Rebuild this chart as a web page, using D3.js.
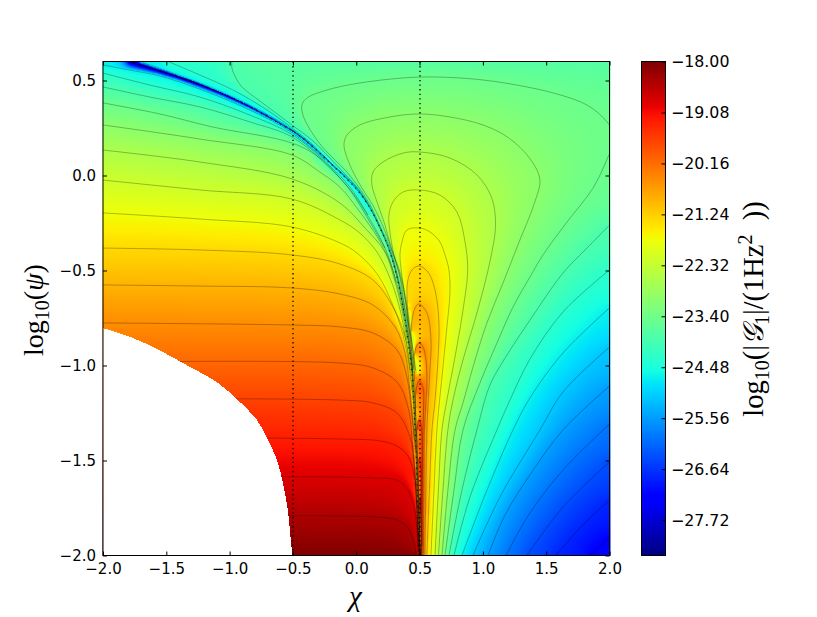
<!DOCTYPE html>
<html><head><meta charset="utf-8">
<script src="https://cdn.jsdelivr.net/npm/d3@7"></script>
<style>
html,body{margin:0;padding:0;background:#fff}
svg{display:block}
.tick text{font-family:"DejaVu Sans",sans-serif;fill:#000}
.math{font-family:"Liberation Serif",serif;fill:#000}
</style></head><body>
<div id="chart"></div>
<script>
// ---- values ----
const xTicks=[-2,-1.5,-1,-0.5,0,0.5,1,1.5,2];
const yTicks=[-2,-1.5,-1,-0.5,0,0.5];
const cbTicks=[-18,-19.08,-20.16,-21.24,-22.32,-23.40,-24.48,-25.56,-26.64,-27.72];
const chiDomain=[-2,2], psiDomain=[-2,0.6], colorDomain=[-28.47,-18];
const dottedChi=[-0.5,0.5];

// contour levels (index k = 1..22)
const levels=[null,-18.42,-18.84,-19.26,-19.68,-20.09,-20.51,-20.93,-21.35,-21.77,-22.19,-22.61,-23.03,-23.44,-23.86,-24.28,-24.70,-25.12,-25.54,-25.96,-26.38,-26.80,-27.21];

// lines left of the ridge, as [chi,psi]
const left01=[[-2,-1.792],[-.129,-1.792],[.132,-1.797],[.321,-1.813],[.408,-1.855],[.456,-1.934],[.472,-2]];
const left02=[[-2,-1.587],[-.129,-1.587],[.132,-1.592],[.321,-1.603],[.408,-1.655],[.456,-1.745],[.479,-1.866],[.483,-2]];
const left03=[[-2,-1.376],[-.129,-1.387],[.187,-1.397],[.321,-1.424],[.408,-1.476],[.456,-1.576],[.479,-1.761],[.491,-2]];
const left04=[[-2,-1.176],[-.129,-1.182],[.132,-1.197],[.321,-1.25],[.424,-1.376],[.456,-1.513],[.476,-1.708],[.491,-1.918],[.495,-2]];
const left05=[[-2,-.982],[-.129,-.987],[.132,-1.013],[.321,-1.087],[.408,-1.218],[.448,-1.445],[.472,-1.655],[.487,-1.866],[.497,-2]];
const left06=[[-2,-.776],[-.508,-.787],[-.129,-.797],[.132,-.829],[.321,-.918],[.4,-1.061],[.44,-1.271],[.468,-1.445]];
const left07=[[-2,-.576],[-1.235,-.582],[-.508,-.592],[-.129,-.624],[.132,-.682],[.306,-.797],[.385,-.934],[.424,-1.129],[.46,-1.392]];
const left08=[[-2,-.382],[-1.235,-.392],[-.508,-.418],[-.129,-.466],[.132,-.55],[.29,-.692],[.385,-.85],[.424,-.997],[.448,-1.182]];
const left09=[[-2,-.197],[-1.235,-.229],[-.508,-.271],[-.129,-.355],[.006,-.408],[.171,-.524],[.282,-.671],[.369,-.839],[.416,-.997],[.44,-1.129]];
const left10=[[-2,-.024],[-1.235,-.076],[-.508,-.124],[-.129,-.234],[.029,-.303],[.164,-.403],[.266,-.539],[.337,-.682],[.392,-.866],[.424,-1.024]];
const left11=[[-2,.134],[-1.235,.071],[-.508,-.018],[-.129,-.145],[.069,-.276],[.227,-.403],[.298,-.539],[.361,-.708],[.4,-.866]];
const left12=[[-2,.266],[-1.235,.192],[-.508,.108],[-.287,.018],[-.129,-.061],[.029,-.192],[.171,-.329],[.266,-.455],[.329,-.592],[.377,-.734]];
const left13=[[-2,.382],[-1.551,.324],[-1.132,.255],[-.508,.171],[-.287,.092],[-.129,-.013],[-.01,-.108],[.148,-.276],[.25,-.418],[.314,-.561]];
const left14=[[-2,.466],[-1.63,.413],[-1.235,.361],[-.84,.282],[-.508,.203],[-.208,.039],[-.05,-.076],[.108,-.245],[.227,-.382]];
const left15=[[-2,.539],[-1.63,.476],[-1.235,.413],[-.84,.318],[-.508,.216],[-.208,.05],[-.05,-.061],[.092,-.208]];
const left16=[[-2,.582],[-1.788,.555],[-1.551,.524],[-1.235,.455],[-.84,.345],[-.508,.226],[-.247,.082]];

// lines hugging the ridge on its upper side
const upper14=[[-.982,.6],[-.982,.566],[-.942,.503],[-.895,.461],[-.761,.392],[-.508,.266],[-.342,.182],[-.208,.092],[-.089,.008],[.013,-.068],[.1,-.155],[.179,-.266],[.257,-.382],[.321,-.524],[.369,-.682],[.412,-.866],[.444,-1.039]];
const upper15=[[-1.487,.6],[-1.235,.529],[-.974,.45],[-.705,.345],[-.508,.25],[-.342,.161],[-.208,.071],[-.089,0],[.013,-.071],[.09,-.15]];
const upper16=[[-1.708,.6],[-1.472,.545],[-1.235,.487],[-.974,.413],[-.737,.334],[-.508,.242],[-.342,.155]];

// closed-looking lobes around chi = 0.5
const lobe02=[[.503,-2],[.497,-1.866],[.497,-1.734],[.501,-1.692],[.505,-1.734],[.508,-1.866],[.508,-2]];
const lobe03=[[.503,-2],[.495,-1.813],[.487,-1.603],[.487,-1.524],[.495,-1.487],[.507,-1.524],[.511,-1.655],[.511,-2]];
const lobe04=[[.502,-2],[.487,-1.655],[.479,-1.418],[.483,-1.313],[.495,-1.287],[.511,-1.313],[.519,-1.418],[.517,-1.708],[.515,-2]];
const lobe05=[[.5,-2],[.487,-1.603],[.472,-1.376],[.464,-1.234],[.472,-1.129],[.495,-1.082],[.527,-1.118],[.531,-1.234],[.527,-1.376],[.523,-2]];
const lobe06=[[.505,-2],[.495,-1.655],[.472,-1.303],[.464,-1.129],[.456,-1.024],[.456,-.955],[.472,-.903],[.495,-.882],[.527,-.903],[.55,-.971],[.558,-1.092],[.547,-1.234],[.539,-1.339],[.535,-1.655],[.531,-2]];
const lobe07=[[.503,-2],[.487,-1.655],[.472,-1.376],[.464,-1.271],[.456,-1.129],[.44,-.955],[.432,-.829],[.44,-.761],[.464,-.697],[.495,-.676],[.558,-.724],[.59,-.866],[.582,-1.024],[.558,-1.339],[.55,-1.655],[.542,-2]];
const lobe08=[[.503,-2],[.495,-1.813],[.479,-1.603],[.464,-1.376],[.456,-1.271],[.448,-1.129],[.44,-.987],[.424,-.866],[.408,-.724],[.4,-.618],[.408,-.55],[.44,-.497],[.495,-.476],[.566,-.508],[.622,-.603],[.653,-.776],[.645,-.971],[.622,-1.182],[.598,-1.339],[.578,-1.655],[.558,-2]];
const lobe09=[[.479,-1.392],[.464,-1.182],[.44,-.997],[.412,-.829],[.397,-.692],[.369,-.566],[.353,-.482],[.345,-.418],[.361,-.35],[.4,-.287],[.495,-.276],[.582,-.297],[.661,-.35],[.701,-.418],[.732,-.497],[.74,-.618],[.716,-.797],[.685,-1.008],[.637,-1.339],[.614,-1.655],[.59,-2]];
const lobe10=[[.472,-1.039],[.436,-.866],[.383,-.692],[.345,-.534],[.298,-.418],[.266,-.297],[.258,-.208],[.29,-.139],[.369,-.087],[.495,-.076],[.661,-.103],[.795,-.192],[.859,-.35],[.88,-.5],[.843,-.708],[.78,-.955],[.716,-1.182],[.677,-1.339],[.649,-1.655],[.622,-2]];
const lobe11=[[.464,-1.024],[.432,-.839],[.392,-.655],[.345,-.508],[.282,-.392],[.227,-.261],[.164,-.139],[.124,-.05],[.132,.018],[.211,.071],[.369,.118],[.495,.124],[.74,.092],[.953,.003],[1.07,-.118],[1.1,-.26],[1.06,-.44],[.953,-.724],[.843,-.971],[.764,-1.182],[.724,-1.339],[.685,-1.655],[.649,-2]];
const lobe12=[[.456,-1.024],[.424,-.839],[.385,-.655],[.337,-.508],[.269,-.371],[.211,-.266],[.13,-.155],[.045,-.066],[-.05,.055],[-.097,.161],[-.073,.213],[.029,.266],[.266,.308],[.495,.324],[.74,.308],[1.001,.266],[1.2,.2],[1.37,.09],[1.45,-.02],[1.41,-.14],[1.28,-.36],[1.159,-.566],[1.032,-.776],[.922,-1.008],[.843,-1.197],[.78,-1.339],[.724,-1.655],[.677,-2]];
const lobe13=[[.448,-1.039],[.416,-.866],[.377,-.682],[.329,-.534],[.266,-.382],[.191,-.271],[.11,-.155],[.013,-.055],[-.089,.029],[-.231,.124],[-.31,.187],[-.413,.303],[-.429,.371],[-.389,.408],[-.231,.45],[.029,.487],[.495,.518],[.922,.508],[1.269,.476],[1.585,.429],[1.822,.371],[1.97,.29],[2.05,.2],[1.99,.1],[1.87,-.066],[1.664,-.245],[1.475,-.418],[1.372,-.534],[1.238,-.692],[1.111,-.882],[.977,-1.092],[.843,-1.339],[.772,-1.655],[.701,-2]];

// lines in the lower right
const right14=[[2,-.261],[1.807,-.392],[1.633,-.513],[1.372,-.761],[1.175,-.961],[1.056,-1.103],[.953,-1.339],[.835,-1.655],[.732,-2]];
const right15=[[2,-.497],[1.633,-.718],[1.372,-.966],[1.214,-1.182],[1.111,-1.339],[.898,-1.692],[.772,-2]];
const right16=[[2,-.697],[1.633,-.934],[1.372,-1.171],[1.238,-1.339],[1.017,-1.682],[.835,-2]];
const right17=[[2,-.903],[1.633,-1.139],[1.451,-1.339],[1.135,-1.692],[.922,-2]];
const right18=[[2,-1.108],[1.633,-1.339],[1.372,-1.576],[1.175,-1.787],[1.04,-2]];
const right19=[[2,-1.308],[1.633,-1.55],[1.372,-1.776],[1.182,-2]];
const right20=[[2,-1.508],[1.633,-1.745],[1.348,-2]];
const right21=[[2,-1.708],[1.767,-1.855],[1.577,-2]];
const right22=[[2,-1.908],[1.846,-2]];

// the narrow dip where the quantity passes through zero, and its depth
const ridge=[[-1.803,.6],[-1.551,.55],[-1.337,.503],[-1.132,.45],[-.919,.387],[-.737,.324],[-.626,.282],[-.468,.218],[-.342,.15],[-.208,.066],[-.089,-.008],[.013,-.08],[.108,-.171],[.203,-.297],[.266,-.403],[.321,-.534],[.369,-.692],[.408,-.866],[.44,-1.039],[.456,-1.218],[.472,-1.445],[.483,-1.692],[.495,-1.934],[.499,-2]];
const ridgeDepth=[-28,-28,-28,-27.5,-27,-26.5,-26.2,-25.8,-25.5,-25.2,-25,-24.7,-24.5,-24.2,-24,-23.7,-23.4,-23.1,-22.8,-22.5,-22.2,-21.8,-21.4,-21];

// values along the plot edge
const bottomEdge=[[-2,-2],[.47,-2]], bottomEdgeValue=-18;
const topEdge=[[-.85,.6],[2,.6]], topEdgeValue=-23.72;

// outline of the empty region
const emptyEdge=[[-2,-.803],[-1.764,-.855],[-1.574,-.913],[-1.369,-.987],[-1.092,-1.092],[-.934,-1.182],[-.784,-1.287],[-.705,-1.382],[-.626,-1.497],[-.579,-1.618],[-.54,-1.761],[-.524,-1.866],[-.505,-2]];

const series=[
 [1,left01],[2,left02],[3,left03],[4,left04],[5,left05],[6,left06],[7,left07],[8,left08],[9,left09],[10,left10],[11,left11],[12,left12],[13,left13],[14,left14],[15,left15],[16,left16],
 [14,upper14],[15,upper15],[16,upper16],
 [2,lobe02],[3,lobe03],[4,lobe04],[5,lobe05],[6,lobe06],[7,lobe07],[8,lobe08],[9,lobe09],[10,lobe10],[11,lobe11],[12,lobe12],[13,lobe13],
 [14,right14],[15,right15],[16,right16],[17,right17],[18,right18],[19,right19],[20,right20],[21,right21],[22,right22]];

// ---- layout ----
const W=817,H=617,L=103,R=609.5,T=61.5,B=555.5,cbL=641.5,cbR=665.5;
const x=d3.scaleLinear().domain(chiDomain).range([L,R]);
const y=d3.scaleLinear().domain(psiDomain).range([B,T]);
const cy=d3.scaleLinear().domain(colorDomain).range([B,T]);
const norm=d3.scaleLinear().domain(colorDomain).range([0,1]).clamp(true);
const jr=d3.scaleLinear().domain([0,.35,.66,.89,1]).range([0,0,1,1,.5]);
const jg=d3.scaleLinear().domain([0,.125,.375,.64,.91,1]).range([0,0,1,1,0,0]);
const jb=d3.scaleLinear().domain([0,.11,.34,.65,1]).range([.5,1,1,0,0]);
const jet=v=>{const n=norm(v);return [jr(n)*255,jg(n)*255,jb(n)*255];};

const svg=d3.select('#chart').append('svg').attr('width',W).attr('height',H).attr('viewBox',[0,0,W,H]);
svg.append('clipPath').attr('id','plot').append('rect').attr('x',L).attr('y',T).attr('width',R-L).attr('height',B-T);
const image=svg.append('image').attr('x',L-.5).attr('y',T-.5).attr('width',508).attr('height',495).attr('preserveAspectRatio','none').style('image-rendering','pixelated');
const plot=svg.append('g').attr('clip-path','url(#plot)');
const line=d3.line().x(d=>x(d[0])).y(d=>y(d[1])).curve(d3.curveCatmullRom.alpha(.5));

const paths=plot.append('g').attr('fill','none').attr('stroke','#000').attr('stroke-width',.55).attr('stroke-opacity',.5)
 .selectAll('path').data(series).join('path').attr('d',d=>line(d[1]));
const ridgePath=plot.append('path').datum(ridge).attr('d',line).attr('fill','none').attr('stroke','#000').attr('stroke-width',.7).attr('stroke-opacity',.45);
plot.append('path').datum(ridge).attr('d',line).attr('fill','none').attr('stroke','#000').attr('stroke-width',1.3).attr('stroke-dasharray','1.3 4.2').attr('stroke-opacity',.8);

// ---- field: values pinned on the read contours, relaxed in between ----
const IW=508,IH=495;
const pins=[];
function pinPath(node,valueAt){const len=node.getTotalLength();for(let s=0;s<=len;s+=.4){const p=node.getPointAtLength(s);if(p.x<=R+.5)pins.push([p.x,p.y,valueAt(p)]);}}
function pinEdge(e,v){const n=1400;for(let i=0;i<=n;i++){const t=i/n;pins.push([x(e[0][0]+(e[1][0]-e[0][0])*t),y(e[0][1]+(e[1][1]-e[0][1])*t),v]);}}
pinEdge(bottomEdge,bottomEdgeValue);pinEdge(topEdge,topEdgeValue);
paths.each(function(d){const v=levels[d[0]];pinPath(this,()=>v);});
const ridgePins=[];
const depth=d3.scaleLinear().domain(ridge.map(d=>d[1])).range(ridgeDepth).clamp(true);
(function(){const n=ridgePath.node(),len=n.getTotalLength();for(let s=0;s<=len;s+=.3){const p=n.getPointAtLength(s);ridgePins.push([p.x,p.y,depth(y.invert(p.y))]);}})();

let u=null,pw=0,ph=0;
[[8,600],[4,400],[2,200],[1,120]].forEach(([s,iters])=>{
  const w=Math.ceil(IW/s),h=Math.ceil(IH/s),n=w*h;
  const sum=new Float64Array(n),cnt=new Int32Array(n);
  const add=p=>{const i=Math.min(w-1,Math.max(0,Math.floor((p[0]-L+.5)/s))),j=Math.min(h-1,Math.max(0,Math.floor((p[1]-T+.5)/s)));sum[i+j*w]+=p[2];cnt[i+j*w]++;};
  pins.forEach(add);
  if(s===1){ridgePins.forEach(p=>{const i=Math.min(w-1,Math.floor(p[0]-L+.5)),j=Math.min(h-1,Math.floor(p[1]-T+.5));sum[i+j*w]=p[2];cnt[i+j*w]=1;});}
  const next=new Float64Array(n);
  for(let j=0;j<h;j++)for(let i=0;i<w;i++){
    const k=i+j*w;
    if(u){const ii=Math.min(pw-1,i>>1),jj=Math.min(ph-1,j>>1);next[k]=u[ii+jj*pw];}else next[k]=-23;
    if(cnt[k])next[k]=sum[k]/cnt[k];
  }
  const om=1.75;
  for(let it=0;it<iters;it++){
    for(let j=0;j<h;j++){const up=j>0?-w:0,dn=j<h-1?w:0;
      for(let i=0;i<w;i++){const k=i+j*w;if(cnt[k])continue;
        const lf=i>0?-1:0,rt=i<w-1?1:0;
        const a=(next[k+lf]+next[k+rt]+next[k+up]+next[k+dn])/4;
        next[k]+=om*(a-next[k]);
      }}
  }
  u=next;pw=w;ph=h;
});
const cv=document.createElement('canvas');cv.width=IW;cv.height=IH;
const ctx=cv.getContext('2d');const im=ctx.createImageData(IW,IH);
for(let k=0;k<IW*IH;k++){const c=jet(u[k]);im.data[4*k]=c[0];im.data[4*k+1]=c[1];im.data[4*k+2]=c[2];im.data[4*k+3]=255;}
ctx.putImageData(im,0,0);
image.attr('href',cv.toDataURL());

// ---- empty region ----
const edgeCurve=d3.line().x(d=>x(d[0])).y(d=>y(d[1])).curve(d3.curveCatmullRom.alpha(.5))(emptyEdge);
plot.append('path').attr('d',edgeCurve+`L${x(-2)},${y(-2)}Z`)
  .attr('fill','#fff').attr('shape-rendering','crispEdges');

// ---- dotted guides ----
plot.selectAll('line.guide').data(dottedChi).join('line').attr('class','guide')
 .attr('x1',d=>Math.round(x(d))).attr('x2',d=>Math.round(x(d))).attr('y1',T).attr('y2',B)
 .attr('stroke','#000').attr('stroke-width',1.3).attr('stroke-dasharray','1.3 3.3');

// ---- frame and axes ----
svg.append('rect').attr('x',L).attr('y',T).attr('width',R-L).attr('height',B-T).attr('fill','none').attr('stroke','#000');
const fmt1=d3.format('.1f');
function style(g,size){g.select('.domain').remove();g.selectAll('.tick line').attr('stroke','#000');g.selectAll('.tick text').attr('font-size',size);}
svg.append('g').attr('transform',`translate(0,${B})`).call(d3.axisBottom(x).tickValues(xTicks).tickFormat(fmt1).tickSize(-4).tickPadding(8)).call(style,15);
svg.append('g').attr('transform',`translate(0,${T})`).call(d3.axisTop(x).tickValues(xTicks).tickFormat('').tickSize(-4)).call(style,15);
svg.append('g').attr('transform',`translate(${L},0)`).call(d3.axisLeft(y).tickValues(yTicks).tickFormat(fmt1).tickSize(-4).tickPadding(7)).call(style,15);
svg.append('g').attr('transform',`translate(${R},0)`).call(d3.axisRight(y).tickValues(yTicks).tickFormat('').tickSize(-4)).call(style,15);

// ---- colour bar ----
const cbSteps=d3.range(494);
svg.append('g').attr('shape-rendering','crispEdges').selectAll('rect').data(cbSteps).join('rect')
 .attr('x',cbL).attr('width',cbR-cbL).attr('y',d=>T+d).attr('height',1.2)
 .attr('fill',d=>{const c=jet(cy.invert(T+d+.5));return d3.rgb(c[0],c[1],c[2]);});
svg.append('rect').attr('x',cbL).attr('y',T).attr('width',cbR-cbL).attr('height',B-T).attr('fill','none').attr('stroke','#000');
svg.append('g').attr('transform',`translate(${cbR},0)`).call(d3.axisRight(cy).tickValues(cbTicks).tickFormat(d3.format('.2f')).tickSize(-4).tickPadding(5.5)).call(style,15.8);

// ---- labels ----
svg.append('text').attr('class','math').attr('x',355.5).attr('y',606).attr('text-anchor','middle').attr('font-size',29).attr('font-style','italic').text('χ');
const yl=svg.append('text').attr('class','math').attr('transform','translate(43,310) rotate(-90)').attr('text-anchor','middle').attr('font-size',28);
yl.append('tspan').text('log');
yl.append('tspan').attr('font-size',20).attr('dy',6).text('10');
yl.append('tspan').attr('dy',-6).text('(');
yl.append('tspan').attr('font-style','italic').text('ψ');
yl.append('tspan').text(')');
const cl=svg.append('text').attr('class','math').attr('transform','translate(763,309) rotate(-90)').attr('text-anchor','middle').attr('font-size',28.5);
cl.append('tspan').text('log');
cl.append('tspan').attr('font-size',20).attr('dy',6).text('10');
cl.append('tspan').attr('dy',-6).text('(|');
cl.append('tspan').attr('font-style','italic').text('𝒢');
cl.append('tspan').attr('font-size',20).attr('dy',6).text('1');
cl.append('tspan').attr('dy',-6).text('|/(1Hz');
cl.append('tspan').attr('font-size',20).attr('dy',-11).text('2');
cl.append('tspan').attr('dy',11).text('\u2002))');
</script>
</body></html>
